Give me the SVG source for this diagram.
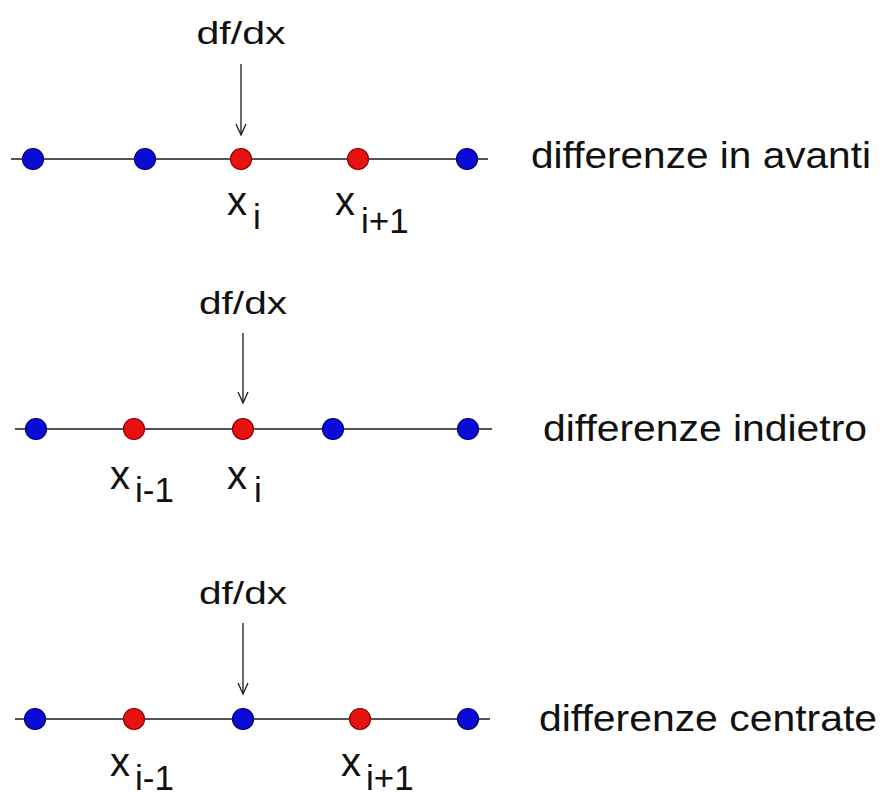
<svg xmlns="http://www.w3.org/2000/svg" width="885" height="798" viewBox="0 0 885 798">
<defs>
<style>
.axis{stroke:#1a1a1a;stroke-width:1.6;fill:none}
.arr{stroke:#1a1a1a;stroke-width:1.3;fill:none}
.b{fill:#0b0bd6;stroke:#00007a;stroke-width:1.2}
.r{fill:#e61212;stroke:#8a0000;stroke-width:1.2}
text{font-family:"Liberation Sans",Arial,sans-serif;fill:#111}
.d{font-size:32px;text-anchor:middle}
.lab{font-size:37px}
.x{font-size:40px}
.s{font-size:35px}
</style>
</defs>
<rect width="885" height="798" fill="#fff"/>
<g id="connectors">
<line class="axis" x1="11" y1="159" x2="488" y2="159"/>
<line class="axis" x1="15" y1="429" x2="492" y2="429"/>
<line class="axis" x1="15" y1="719" x2="490" y2="719"/>
<line class="arr" x1="241" y1="64" x2="241" y2="135"/>
<polyline class="arr" points="236,124 241,135 246,124"/>
<line class="arr" x1="243" y1="333" x2="243" y2="403"/>
<polyline class="arr" points="238,392 243,403 248,392"/>
<line class="arr" x1="243" y1="623" x2="243" y2="694"/>
<polyline class="arr" points="238,683 243,694 248,683"/>
</g>
<g id="row1">
<circle class="b" cx="33" cy="159" r="10.5"/>
<circle class="b" cx="145" cy="159" r="10.5"/>
<circle class="r" cx="241" cy="159" r="10.5"/>
<circle class="r" cx="358" cy="159" r="10.5"/>
<circle class="b" cx="467" cy="159" r="10.5"/>
<text class="d" x="241" y="44" textLength="89" lengthAdjust="spacingAndGlyphs">df/dx</text>
<text class="x" x="227" y="215">x</text><text class="s" x="253" y="229">i</text>
<text class="x" x="335" y="215">x</text><text class="s" x="361" y="233">i+1</text>
<text class="lab" x="531" y="168" textLength="340" lengthAdjust="spacingAndGlyphs">differenze in avanti</text>
</g>
<g id="row2">
<circle class="b" cx="36" cy="429" r="10.5"/>
<circle class="r" cx="134" cy="429" r="10.5"/>
<circle class="r" cx="243" cy="429" r="10.5"/>
<circle class="b" cx="333" cy="429" r="10.5"/>
<circle class="b" cx="468" cy="429" r="10.5"/>
<text class="d" x="243" y="314" textLength="88" lengthAdjust="spacingAndGlyphs">df/dx</text>
<text class="x" x="110" y="489">x</text><text class="s" x="135" y="502">i-1</text>
<text class="x" x="227" y="489">x</text><text class="s" x="254" y="502">i</text>
<text class="lab" x="543" y="441" textLength="324" lengthAdjust="spacingAndGlyphs">differenze indietro</text>
</g>
<g id="row3">
<circle class="b" cx="35" cy="719" r="10.5"/>
<circle class="r" cx="134" cy="719" r="10.5"/>
<circle class="b" cx="243" cy="719" r="10.5"/>
<circle class="r" cx="360" cy="719" r="10.5"/>
<circle class="b" cx="468" cy="719" r="10.5"/>
<text class="d" x="243" y="604" textLength="88" lengthAdjust="spacingAndGlyphs">df/dx</text>
<text class="x" x="110" y="776">x</text><text class="s" x="135" y="790">i-1</text>
<text class="x" x="341" y="776">x</text><text class="s" x="366" y="790">i+1</text>
<text class="lab" x="539" y="731" textLength="338" lengthAdjust="spacingAndGlyphs">differenze centrate</text>
</g>
</svg>
